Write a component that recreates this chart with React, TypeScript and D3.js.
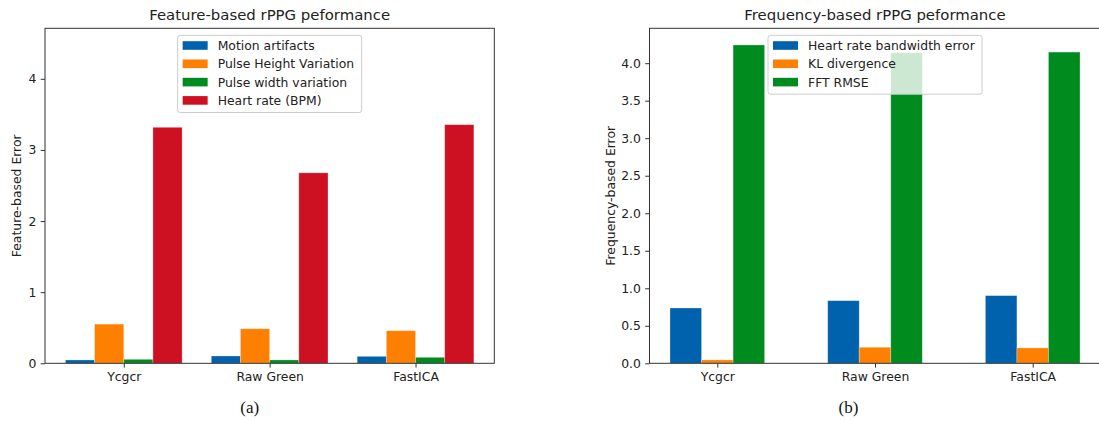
import { useEffect, useRef } from 'react';
import * as d3 from 'd3';

// categories on the x axis
const methods = ['Ycgcr', 'Raw Green', 'FastICA'];

// (a) feature-based errors
const featureLabels = ['Motion artifacts', 'Pulse Height Variation', 'Pulse width variation', 'Heart rate (BPM)'];
const motionArtifacts = [0.047, 0.103, 0.098];
const pulseHeightVariation = [0.551, 0.486, 0.458];
const pulseWidthVariation = [0.056, 0.047, 0.084];
const heartRateBpm = [3.318, 2.678, 3.355];
const featureTicks = [0, 1, 2, 3, 4];

// (b) frequency-based errors
const frequencyLabels = ['Heart rate bandwidth error', 'KL divergence', 'FFT RMSE'];
const hrBandwidthError = [0.737, 0.835, 0.902];
const klDivergence = [0.045, 0.214, 0.205];
const fftRmse = [4.243, 4.139, 4.148];
const frequencyTicks = [0, 0.5, 1, 1.5, 2, 2.5, 3, 3.5, 4];

const colors = ['#0062ad', '#ff7f00', '#008b1f', '#cd1122'];
const FONT = 'DejaVu Sans, sans-serif';

type ChartOpts = {
  left: number;
  top: number;
  width: number;
  height: number;
  yMax: number;
  ticks: number[];
  tickFormat: (v: number) => string;
  title: string;
  yLabel: string;
  yLabelX: number;
  labels: string[];
  series: number[][];
  legendWidth: number;
  caption: string;
  captionX: number;
};

function drawChart(root: d3.Selection<SVGSVGElement, unknown, null, undefined>, o: ChartOpts) {
  const g = root.append('g').attr('transform', `translate(${o.left},${o.top})`);
  const n = o.series.length;
  const barW = 0.2;
  const lo = -(n * barW) / 2;
  const hi = methods.length - 1 + (n * barW) / 2;
  const pad = 0.05 * (hi - lo);

  const x = d3.scaleLinear().domain([lo - pad, hi + pad]).range([0, o.width]);
  const y = d3.scaleLinear().domain([0, o.yMax]).range([o.height, 0]);

  // bars
  o.series.forEach((vals, j) => {
    g.selectAll(null)
      .data(vals)
      .enter()
      .append('rect')
      .attr('x', (_d, i) => x(i + (j - (n - 1) / 2) * barW - barW / 2))
      .attr('width', x(barW) - x(0))
      .attr('y', (d) => y(d))
      .attr('height', (d) => o.height - y(d))
      .attr('fill', colors[j])
      .attr('stroke', '#ffffff')
      .attr('stroke-opacity', 0.35)
      .attr('stroke-width', 0.8);
  });

  // axes
  const yAxis = g
    .append('g')
    .call(d3.axisLeft(y).tickValues(o.ticks).tickFormat((d) => o.tickFormat(+d)).tickSizeOuter(0).tickSize(4.3).tickPadding(4.3));
  const xAxis = g
    .append('g')
    .attr('transform', `translate(0,${o.height})`)
    .call(
      d3
        .axisBottom(x)
        .tickValues(methods.map((_m, i) => i))
        .tickFormat((d) => methods[+d])
        .tickSizeOuter(0)
        .tickSize(4.3)
        .tickPadding(4.3)
    );
  [xAxis, yAxis].forEach((ax) => {
    ax.select('.domain').remove();
    ax.selectAll('line').attr('stroke', '#333');
    ax.selectAll('text').attr('font-family', FONT).attr('font-size', 12.4).attr('fill', '#222');
  });

  // frame
  g.append('rect')
    .attr('width', o.width)
    .attr('height', o.height)
    .attr('fill', 'none')
    .attr('stroke', '#333')
    .attr('stroke-width', 1);

  // legend
  const rowH = 18.3;
  const legend = g.append('g').attr('transform', `translate(${o.width / 2 - o.legendWidth / 2}, 7)`);
  legend
    .append('rect')
    .attr('width', o.legendWidth)
    .attr('height', n * rowH + 4)
    .attr('rx', 2.5)
    .attr('fill', '#ffffff')
    .attr('fill-opacity', 0.8)
    .attr('stroke', '#cccccc')
    .attr('stroke-width', 1);
  o.labels.forEach((label, j) => {
    const cy = 10.2 + j * rowH;
    legend
      .append('rect')
      .attr('x', 5)
      .attr('y', cy - 4.3)
      .attr('width', 25)
      .attr('height', 8.6)
      .attr('fill', colors[j]);
    legend
      .append('text')
      .attr('x', 40)
      .attr('y', cy + 4.5)
      .attr('font-family', FONT)
      .attr('font-size', 12.4)
      .attr('fill', '#222')
      .text(label);
  });

  // title
  root
    .append('text')
    .attr('x', o.left + o.width / 2)
    .attr('y', 20)
    .attr('text-anchor', 'middle')
    .attr('font-family', FONT)
    .attr('font-size', 14.9)
    .attr('fill', '#222')
    .text(o.title);

  // y label
  root
    .append('text')
    .attr('transform', `translate(${o.yLabelX},${o.top + o.height / 2}) rotate(-90)`)
    .attr('text-anchor', 'middle')
    .attr('dy', '0.35em')
    .attr('font-family', FONT)
    .attr('font-size', 12.4)
    .attr('fill', '#222')
    .text(o.yLabel);

  // caption
  root
    .append('text')
    .attr('x', o.captionX)
    .attr('y', 413)
    .attr('text-anchor', 'middle')
    .attr('font-family', 'Liberation Serif, Times New Roman, serif')
    .attr('font-size', 17)
    .attr('fill', '#111')
    .text(o.caption);
}

export default function App() {
  const svgRef = useRef<SVGSVGElement>(null);

  useEffect(() => {
    const svg = d3.select(svgRef.current as SVGSVGElement);
    svg.selectAll('*').remove();

    drawChart(svg, {
      left: 45,
      top: 28.3,
      width: 449.3,
      height: 335,
      yMax: 4.71,
      ticks: featureTicks,
      tickFormat: (v) => d3.format('d')(v),
      title: 'Feature-based rPPG peformance',
      yLabel: 'Feature-based Error',
      yLabelX: 16.7,
      labels: featureLabels,
      series: [motionArtifacts, pulseHeightVariation, pulseWidthVariation, heartRateBpm],
      legendWidth: 184,
      caption: '(a)',
      captionX: 249.7,
    });

    // right panel is clipped by the page edge, so its frame runs just past 1099
    drawChart(svg, {
      left: 649.5,
      top: 28.3,
      width: 451,
      height: 335,
      yMax: 4.465,
      ticks: frequencyTicks,
      tickFormat: (v) => d3.format('.1f')(v),
      title: 'Frequency-based rPPG peformance',
      yLabel: 'Frequency-based Error',
      yLabelX: 610.7,
      labels: frequencyLabels,
      series: [hrBandwidthError, klDivergence, fftRmse],
      legendWidth: 214,
      caption: '(b)',
      captionX: 848.5,
    });
  }, []);

  return (
    <svg
      ref={svgRef}
      width={1099}
      height={421}
      style={{ position: 'absolute', left: 0, top: 0, background: '#fff' }}
    />
  );
}
